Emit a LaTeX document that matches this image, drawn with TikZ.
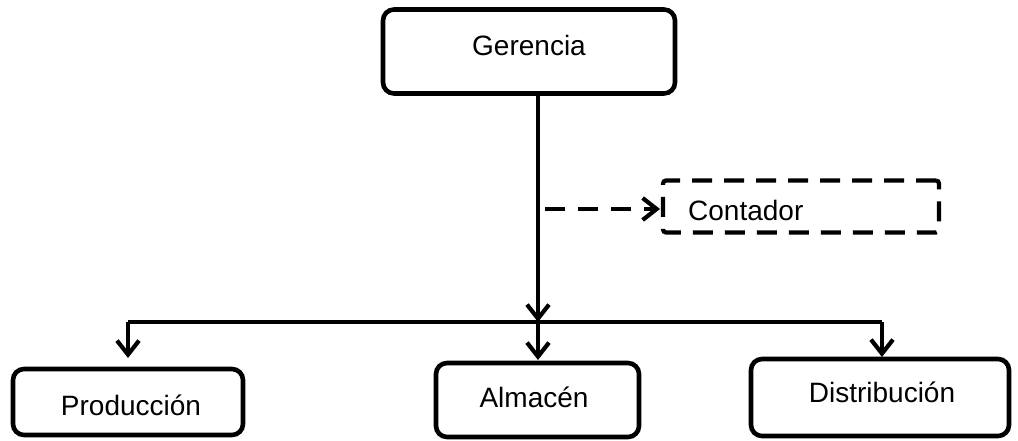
\documentclass[tikz,border=0pt]{standalone}
\usepackage{fontspec}
\setmainfont{Liberation Sans}
\usetikzlibrary{arrows.meta}
\begin{document}
\begin{tikzpicture}[x=1pt,y=-1pt,
  box/.style={draw=black,line width=4.6pt,rounded corners=11pt,inner sep=0pt},
  lbl/.style={font=\fontsize{28}{33}\selectfont,inner sep=0pt},
  conn/.style={line width=4.2pt,-{Straight Barb[length=14pt,width=22pt,line width=4.2pt]}},
  bar/.style={line width=4.2pt}]
\useasboundingbox (0,0) rectangle (1018,441);
% boxes
\node[box,minimum width=292pt,minimum height=84pt] (ger) at (529,51.5) {};
\node[lbl] (gert) at (529,45) {Gerencia};
\node[draw=black,line width=4.2pt,rounded corners=3pt,dash pattern=on 20pt off 12pt,minimum width=276pt,minimum height=52pt] (cont) at (801,206.5) {};
\node[lbl,anchor=west] (contt) at (688,210) {Contador};
\node[box,minimum width=230pt,minimum height=66pt] (prod) at (128,402) {};
\node[lbl] (prodt) at (131,405) {Producción};
\node[box,minimum width=203pt,minimum height=74pt] (alm) at (537.5,400) {};
\node[lbl] (almt) at (534,397) {Almacén};
\node[box,minimum width=258pt,minimum height=77pt] (dist) at (880,397.5) {};
\node[lbl] (distt) at (882,392) {Distribución};
% coordinates
\coordinate (j) at (538,322);
\coordinate (jl) at (128,322);
\coordinate (jr) at (882,322);
\coordinate (tp) at (128,358);
\coordinate (ta) at (538,360);
\coordinate (td) at (882,357);
\coordinate (ds) at (545,209);
\coordinate (de) at (660,209);
% connectors
\draw[conn] (ger.south -| j) -- (j);
\draw[bar] (jl) -- (jr);
\draw[conn] (jl) -- (tp);
\draw[conn] (j) -- (ta);
\draw[conn] (jr) -- (td);
\draw[conn,dash pattern=on 20pt off 13pt] (ds) -- (de);
\end{tikzpicture}
\end{document}
